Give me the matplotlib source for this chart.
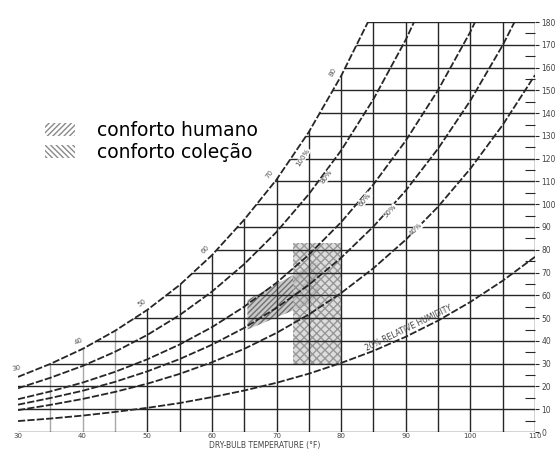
import numpy as np
import matplotlib
matplotlib.use("Agg")
import matplotlib.pyplot as plt
from matplotlib.patches import Polygon, Patch

# dry bulb temperature (F) and humidity ratio (grains per lb dry air)
temps = [30, 35, 40, 45, 50, 55, 60, 65, 70, 75, 80, 85, 90, 95, 100, 105, 110]
rh_curves = {
    "100%": [24.2, 29.9, 36.5, 44.4, 53.6, 64.5, 77.6, 93.2, 110.8, 131.7, 156.3, 184.8],
    "80%": [19.2, 23.8, 29.0, 35.2, 42.6, 51.3, 61.6, 73.7, 87.8, 104.4, 123.6, 146.1, 172.2, 202.5],
    "60%": [14.4, 17.8, 21.7, 26.4, 31.9, 38.4, 46.0, 55.0, 65.5, 77.8, 92.1, 108.7, 127.9, 150.1, 175.7, 205.3],
    "50%": [12.0, 14.9, 18.1, 22.0, 26.6, 32.0, 38.3, 45.7, 54.5, 64.6, 76.5, 90.2, 106.0, 124.4, 145.5, 169.8, 197.6],
    "40%": [9.6, 11.9, 14.5, 17.6, 21.2, 25.5, 30.6, 36.5, 43.5, 51.6, 61.0, 71.9, 84.4, 98.9, 115.6, 134.8, 156.7],
    "20%": [4.8, 5.9, 7.2, 8.8, 10.6, 12.7, 15.3, 18.2, 21.6, 25.6, 30.3, 35.6, 41.8, 48.9, 57.1, 66.4, 76.9],
}

# curve labels (text, temperature, grains)
rh_label_text = ["100%", "80%", "60%", "50%", "40%"]
rh_label_t = [74.1, 77.8, 83.7, 87.6, 91.6]
rh_label_w = [120.5, 112.0, 102.0, 97.0, 89.0]

wet_bulb = [30, 40, 50, 60, 70, 80]

grid_temps = list(range(35, 115, 5))
grid_grains = list(range(0, 190, 10))

# comfort zones (temperature, grains)
humano_t = [65.5, 65.5, 76.5, 76.5]
humano_w = [45, 58, 75, 58]
colecao_t = [72.5, 72.5, 80.0, 80.0]
colecao_w = [30, 83, 83, 30]

line_col = "#262626"

fig = plt.figure(figsize=(5.6, 4.51), dpi=100)
ax = fig.add_axes([18 / 560, 19 / 451, 517 / 560, 410 / 451])
ax.set_xlim(30, 110)
ax.set_ylim(0, 180)
for s in ax.spines.values():
    s.set_visible(False)

# region below the saturation curve, used to clip the grid
sat = rh_curves["100%"]
verts = list(zip(temps[:len(sat)], sat)) + [(110, sat[-1]), (110, 0), (30, 0)]
clip = Polygon(verts, closed=True, fill=False, lw=0, transform=ax.transData)
ax.add_patch(clip)

for t in grid_temps:
    c = "#a8a8a8" if t < 50 else line_col
    ln, = ax.plot([t, t], [0, 180], color=c, lw=1.0, zorder=2)
    ln.set_clip_path(clip)
for w in grid_grains:
    ln, = ax.plot([30, 110], [w, w], color=line_col, lw=1.0, zorder=2)
    ln.set_clip_path(clip)

# comfort zones
ax.fill(humano_t, humano_w, facecolor="#bdbdbd", edgecolor="#5a5a5a", hatch="//////",
        lw=0, alpha=0.8, zorder=1)
ax.fill(colecao_t, colecao_w, facecolor="#d2d2d2", edgecolor="#808080", hatch="xxxx",
        lw=0, alpha=0.75, zorder=1)

# relative humidity curves
for name, vals in rh_curves.items():
    ax.plot(temps[:len(vals)], vals, color=line_col, lw=1.3,
            linestyle=(0, (4, 1.2)), zorder=3, clip_on=True)

fig.canvas.draw()

def screen_angle(tx, curve, dt=2.5):
    vals = rh_curves[curve]
    t_arr = temps[:len(vals)]
    w0 = np.interp(tx - dt, t_arr, vals)
    w1 = np.interp(tx + dt, t_arr, vals)
    p0 = ax.transData.transform((tx - dt, w0))
    p1 = ax.transData.transform((tx + dt, w1))
    return np.degrees(np.arctan2(p1[1] - p0[1], p1[0] - p0[0]))

# wet bulb labels along saturation curve
for t in wet_bulb:
    w = np.interp(t, temps[:len(sat)], sat)
    a = screen_angle(t, "100%")
    r = np.radians(a)
    ax.annotate(str(t), (t, w), xytext=(-6.5 * np.sin(r), 6.5 * np.cos(r)),
                textcoords="offset points", ha="center", va="center",
                rotation=a, fontsize=5, color="#555555", zorder=4)

# RH labels along curves
for txt, t, w in zip(rh_label_text, rh_label_t, rh_label_w):
    a = screen_angle(t, txt)
    ax.text(t, w, txt, rotation=a, ha="center", va="center", fontsize=5,
            color="#444444", zorder=4,
            bbox=dict(facecolor="white", edgecolor="none", pad=0.3))

a20 = screen_angle(91, "20%")
ax.text(90.5, 45.5, "20% RELATIVE HUMIDITY", rotation=a20, ha="center", va="center",
        fontsize=5.5, color="#444444", zorder=4)

# ticks
ax.set_xticks(range(30, 120, 10))
ax.tick_params(axis="x", length=0, labelsize=5, labelcolor="#444444", pad=0.8)
ax.yaxis.tick_right()
ax.set_yticks(range(0, 190, 10))
ax.set_yticks(range(5, 180, 10), minor=True)
ax.tick_params(axis="y", which="major", direction="out", length=3, width=0.8,
               color=line_col, labelsize=5.5, labelcolor="#444444", pad=1.5)
ax.tick_params(axis="y", which="minor", direction="in", length=7, width=0.8, color=line_col)

fig.text(265 / 560, 1 / 451, "DRY-BULB TEMPERATURE (°F)", ha="center", va="bottom",
         fontsize=5.5, color="#444444")

# legend
handles = [
    Patch(facecolor="white", edgecolor="#8a8a8a", hatch="//////", lw=0),
    Patch(facecolor="white", edgecolor="#8a8a8a", hatch="\\\\\\\\\\\\", lw=0),
]
ax.legend(handles, ["conforto humano", "conforto coleção"], loc="upper left",
          bbox_to_anchor=(45 / 560, 1 - 121 / 451), bbox_transform=fig.transFigure,
          frameon=False, fontsize=13.5, handlelength=1.6, handleheight=0.7,
          handletextpad=1.15, labelspacing=0.15, borderpad=0, borderaxespad=0)

fig.savefig("out.png", dpi=100)
